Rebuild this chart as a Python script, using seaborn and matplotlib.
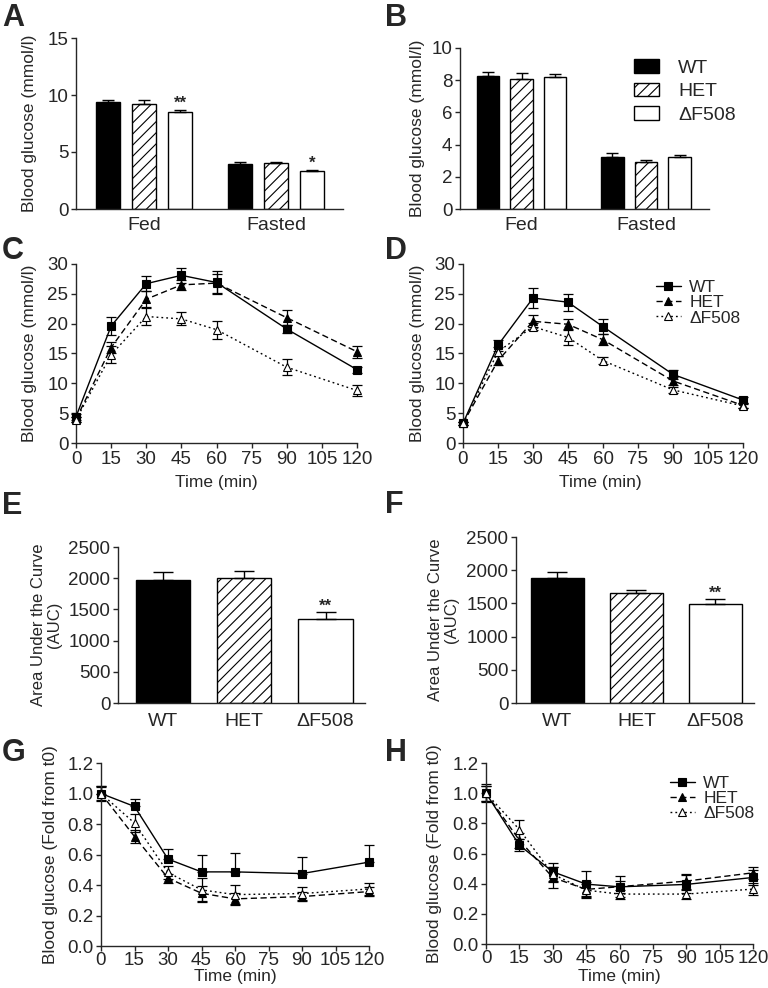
from matplotlib import pyplot as plt
from matplotlib.patches import Patch
from matplotlib.ticker import FormatStrFormatter
import seaborn as sns
import pandas as pd
import numpy as np

GENOTYPES = ["WT", "HET", "ΔF508"]
STATES = ["Fed", "Fasted"]
TIMES = [0, 15, 30, 45, 60, 90, 120]

# A / B: blood glucose, order WT, HET, dF508
A_FED = [9.35, 9.2, 8.5]
A_FED_SEM = [0.25, 0.35, 0.2]
A_FASTED = [3.95, 4.05, 3.3]
A_FASTED_SEM = [0.2, 0.1, 0.15]
B_FED = [8.28, 8.07, 8.2]
B_FED_SEM = [0.22, 0.35, 0.17]
B_FASTED = [3.26, 2.95, 3.2]
B_FASTED_SEM = [0.2, 0.1, 0.15]

# C / D: glucose tolerance curves (mmol/l)
C_WT = [4.4, 19.6, 26.7, 28.1, 26.9, 19.1, 12.3]
C_WT_SEM = [0.5, 1.5, 1.3, 1.3, 2.0, 0.6, 0.5]
C_HET = [4.0, 16.0, 24.1, 26.5, 26.8, 21.0, 15.3]
C_HET_SEM = [0.4, 1.0, 1.3, 0.9, 1.6, 1.3, 1.0]
C_DF = [3.9, 14.8, 21.2, 20.8, 19.0, 12.7, 8.8]
C_DF_SEM = [0.4, 1.4, 1.4, 1.1, 1.5, 1.3, 0.9]

D_WT = [3.3, 16.4, 24.3, 23.6, 19.5, 11.5, 7.2]
D_WT_SEM = [0.3, 0.9, 1.6, 1.4, 1.2, 0.7, 0.5]
D_HET = [3.3, 13.8, 20.4, 19.9, 17.3, 10.4, 6.3]
D_HET_SEM = [0.3, 0.7, 1.0, 0.8, 0.9, 0.6, 0.4]
D_DF = [3.3, 15.3, 19.5, 17.7, 13.8, 8.9, 6.2]
D_DF_SEM = [0.3, 0.8, 0.6, 1.3, 0.6, 0.5, 0.4]

# E / F: area under the curve
E_AUC = [1975, 2000, 1350]
E_SEM = [120, 110, 105]
F_AUC = [1890, 1650, 1490]
F_SEM = [90, 45, 70]

# G / H: insulin tolerance, fold from t0
G_WT = [1.0, 0.915, 0.57, 0.486, 0.486, 0.475, 0.55]
G_WT_SEM = [0.05, 0.05, 0.065, 0.11, 0.125, 0.11, 0.11]
G_HET = [1.0, 0.718, 0.445, 0.346, 0.309, 0.324, 0.357]
G_HET_SEM = [0.04, 0.04, 0.03, 0.05, 0.04, 0.03, 0.03]
G_DF = [1.0, 0.806, 0.482, 0.368, 0.337, 0.344, 0.374]
G_DF_SEM = [0.05, 0.06, 0.04, 0.08, 0.06, 0.04, 0.04]

H_WT = [1.0, 0.655, 0.479, 0.397, 0.379, 0.395, 0.441]
H_WT_SEM = [0.06, 0.04, 0.06, 0.09, 0.07, 0.06, 0.05]
H_HET = [1.0, 0.688, 0.441, 0.362, 0.38, 0.417, 0.472]
H_HET_SEM = [0.05, 0.05, 0.07, 0.05, 0.04, 0.05, 0.04]
H_DF = [1.0, 0.759, 0.463, 0.357, 0.331, 0.331, 0.364]
H_DF_SEM = [0.05, 0.06, 0.05, 0.04, 0.03, 0.03, 0.04]

BAR_COLORS = ["black", "white", "white"]
HATCHES = ["", "///", ""]

sns.set_style("ticks")
plt.rcParams["font.family"] = ["Liberation Sans", "DejaVu Sans"]
plt.rcParams.update({
    "axes.linewidth": 1.0,
    "xtick.major.size": 3.5, "ytick.major.size": 3.5,
    "xtick.major.width": 1.0, "ytick.major.width": 1.0,
    "xtick.labelsize": 13.5, "ytick.labelsize": 13.5,
    "axes.labelsize": 12.5,
    "hatch.linewidth": 0.8, "hatch.color": "black",
})

W, H = 768, 988
fig = plt.figure(figsize=(W / 100, H / 100), dpi=100)


def px_axes(left, top, right, bottom):
    return fig.add_axes([left / W, 1 - bottom / H, (right - left) / W, (bottom - top) / H])


def tidy(ax):
    sns.despine(ax=ax)
    ax.tick_params(direction="out", pad=2)


def star(ax, x, y, text):
    ax.annotate(text, (x, y), xytext=(0, -1), textcoords="offset points",
                ha="center", va="bottom", fontsize=12, fontweight="bold")


def glucose_bars(ax, fed, fed_sem, fasted, fasted_sem, width, gap):
    df = pd.DataFrame({"state": np.repeat(STATES, 3), "genotype": GENOTYPES * 2,
                       "glucose": fed + fasted, "sem": fed_sem + fasted_sem})
    sns.barplot(data=df, x="state", y="glucose", hue="genotype", hue_order=GENOTYPES,
                palette=BAR_COLORS, width=width, gap=gap, errorbar=None,
                edgecolor="black", linewidth=1.0, legend=False, ax=ax)
    bars = list(ax.containers[:3])
    for i, cont in enumerate(bars):
        for j, bar in enumerate(cont):
            bar.set_hatch(HATCHES[i])
            sem = df[(df.genotype == GENOTYPES[i]) & (df.state == STATES[j])]["sem"].iloc[0]
            ax.errorbar(bar.get_x() + bar.get_width() / 2, bar.get_height(),
                        yerr=[[0], [sem]], fmt="none", ecolor="black",
                        elinewidth=1.0, capsize=4.5, capthick=1.0)
    ax.set_xlabel("")
    ax.set_ylabel("Blood glucose (mmol/l)")
    tidy(ax)
    ax.tick_params(axis="x", length=0, pad=6, labelsize=14)
    return bars


def auc_bars(ax, auc, sem):
    df = pd.DataFrame({"genotype": GENOTYPES, "auc": auc, "sem": sem})
    sns.barplot(data=df, x="genotype", y="auc", hue="genotype", palette=BAR_COLORS,
                width=0.67, errorbar=None, edgecolor="black", linewidth=1.0,
                legend=False, ax=ax)
    bars = list(ax.containers[:3])
    for i, cont in enumerate(bars):
        for bar in cont:
            bar.set_hatch(HATCHES[i])
            ax.errorbar(bar.get_x() + bar.get_width() / 2, bar.get_height(),
                        yerr=[[0], [sem[i]]], fmt="none", ecolor="black",
                        elinewidth=1.0, capsize=7, capthick=1.0)
    ax.set_xlabel("")
    ax.set_ylabel("Area Under the Curve\n(AUC)", linespacing=1.1, fontsize=12)
    ax.set_ylim(0, 2500)
    ax.set_yticks(range(0, 2501, 500))
    tidy(ax)
    ax.tick_params(axis="x", length=0, pad=7, labelsize=14)
    bar = bars[2][0]
    star(ax, bar.get_x() + bar.get_width() / 2, auc[2] + sem[2], "**")


def curves(ax, values, sems, lower_only_up=None):
    df = pd.DataFrame({"time": TIMES * 3, "genotype": np.repeat(GENOTYPES, len(TIMES)),
                       "glucose": sum(values, []), "sem": sum(sems, [])})
    sns.lineplot(data=df, x="time", y="glucose", hue="genotype", style="genotype",
                 hue_order=GENOTYPES, style_order=GENOTYPES, palette=["black"] * 3,
                 markers=["s", "^", "^"], dashes=["", (4.5, 2.5), (1.3, 2.2)],
                 markersize=6, markeredgecolor="black", markeredgewidth=0.8,
                 linewidth=1.0, errorbar=None, legend=False, clip_on=False, ax=ax)
    lines = list(ax.lines[:3])
    lines[2].set_markerfacecolor("white")
    for ln in lines:
        ln.set_zorder(3)
    for k, g in enumerate(GENOTYPES):
        sub = df[df.genotype == g]
        low = np.zeros(len(sub)) if lower_only_up == g else sub["sem"].values
        ax.errorbar(sub["time"], sub["glucose"], yerr=[low, sub["sem"].values], fmt="none",
                    ecolor="black", elinewidth=0.9, capsize=3.5, capthick=0.9,
                    clip_on=False, zorder=2)
    ax.set_xlim(0, 120)
    ax.set_xticks(TIMES[:5] + [75, 90, 105, 120])
    ax.set_xlabel("Time (min)")
    tidy(ax)
    return lines


def curve_legend(ax, lines, y):
    ax.legend(lines, GENOTYPES, loc="upper left", bbox_to_anchor=(0.69, y), frameon=False,
              fontsize=12.5, handlelength=1.4, handletextpad=0.5, labelspacing=0.0,
              borderpad=0, borderaxespad=0)


# ---- A ----
axA = px_axes(76, 38, 343, 209)
barsA = glucose_bars(axA, A_FED, A_FED_SEM, A_FASTED, A_FASTED_SEM, 0.82, 0.34)
axA.set_xlim(-0.515, 1.508)
axA.set_ylim(0, 15)
axA.set_yticks([0, 5, 10, 15])
for j, (m, s, t) in enumerate([(A_FED[2], A_FED_SEM[2], "**"), (A_FASTED[2], A_FASTED_SEM[2], "*")]):
    bar = barsA[2][j]
    star(axA, bar.get_x() + bar.get_width() / 2, m + s, t)
axA.yaxis.set_label_coords(-0.146, 0.5)

# ---- B ----
axB = px_axes(460, 48, 709, 209)
glucose_bars(axB, B_FED, B_FED_SEM, B_FASTED, B_FASTED_SEM, 0.81, 0.33)
axB.set_xlim(-0.494, 1.506)
axB.set_ylim(0, 10)
axB.set_yticks(range(0, 11, 2))
axB.yaxis.set_label_coords(-0.141, 0.5)
handles = [Patch(facecolor=BAR_COLORS[i], edgecolor="black", hatch=HATCHES[i], linewidth=1.0)
           for i in range(3)]
axB.legend(handles, GENOTYPES, loc="upper left", bbox_to_anchor=(0.70, 0.93), frameon=False,
           fontsize=14, handlelength=1.25, handleheight=0.7, handletextpad=1.0,
           labelspacing=0.3, borderpad=0, borderaxespad=0)

# ---- C ----
axC = px_axes(76, 264, 357, 443)
curves(axC, [C_WT, C_HET, C_DF], [C_WT_SEM, C_HET_SEM, C_DF_SEM])
axC.set_ylim(0, 30)
axC.set_yticks(range(0, 31, 5))
axC.set_ylabel("Blood glucose (mmol/l)")
axC.yaxis.set_label_coords(-0.139, 0.5)
axC.xaxis.set_label_coords(0.5, -0.18)
axC.xaxis.label.set_va("top")

# ---- D ----
axD = px_axes(463, 264, 743, 443)
linesD = curves(axD, [D_WT, D_HET, D_DF], [D_WT_SEM, D_HET_SEM, D_DF_SEM])
axD.set_ylim(0, 30)
axD.set_yticks(range(0, 31, 5))
axD.set_ylabel("Blood glucose (mmol/l)")
axD.yaxis.set_label_coords(-0.136, 0.5)
axD.xaxis.set_label_coords(0.49, -0.18)
axD.xaxis.label.set_va("top")
curve_legend(axD, linesD, 0.91)

# ---- E / F ----
axE = px_axes(118, 547, 365, 703)
auc_bars(axE, E_AUC, E_SEM)
axE.set_xlim(-0.554, 2.486)
axE.yaxis.set_label_coords(-0.227, 0.5)

axF = px_axes(516, 537, 754, 703)
auc_bars(axF, F_AUC, F_SEM)
axF.set_xlim(-0.525, 2.49)
axF.yaxis.set_label_coords(-0.239, 0.5)

# ---- G ----
axG = px_axes(101, 763, 369, 946)
curves(axG, [G_WT, G_HET, G_DF], [G_WT_SEM, G_HET_SEM, G_DF_SEM], lower_only_up="WT")
axG.set_ylim(0, 1.2)
axG.set_yticks(np.arange(0, 1.21, 0.2))
axG.yaxis.set_major_formatter(FormatStrFormatter("%.1f"))
axG.set_ylabel("Blood glucose (Fold from t0)")
axG.yaxis.set_label_coords(-0.16, 0.5)
axG.xaxis.set_label_coords(0.5, -0.128)
axG.xaxis.label.set_va("top")
axG.tick_params(axis="x", pad=1)

# ---- H ----
axH = px_axes(486, 763, 753, 944)
linesH = curves(axH, [H_WT, H_HET, H_DF], [H_WT_SEM, H_HET_SEM, H_DF_SEM])
axH.set_ylim(0, 1.2)
axH.set_yticks(np.arange(0, 1.21, 0.2))
axH.yaxis.set_major_formatter(FormatStrFormatter("%.1f"))
axH.set_ylabel("Blood glucose (Fold from t0)")
axH.yaxis.set_label_coords(-0.165, 0.5)
axH.xaxis.set_label_coords(0.5, -0.14)
axH.xaxis.label.set_va("top")
axH.tick_params(axis="x", pad=1)
curve_legend(axH, linesH, 0.93)

# panel letters
for letter, x, y in [("A", 2, 3), ("B", 385, 3), ("C", 2, 236), ("D", 385, 236),
                     ("E", 2, 491), ("F", 385, 490), ("G", 2, 738), ("H", 385, 738)]:
    fig.text(x / W, 1 - y / H, letter, fontsize=22, fontweight="bold", ha="left", va="top")

plt.savefig("out.png", dpi=100)
